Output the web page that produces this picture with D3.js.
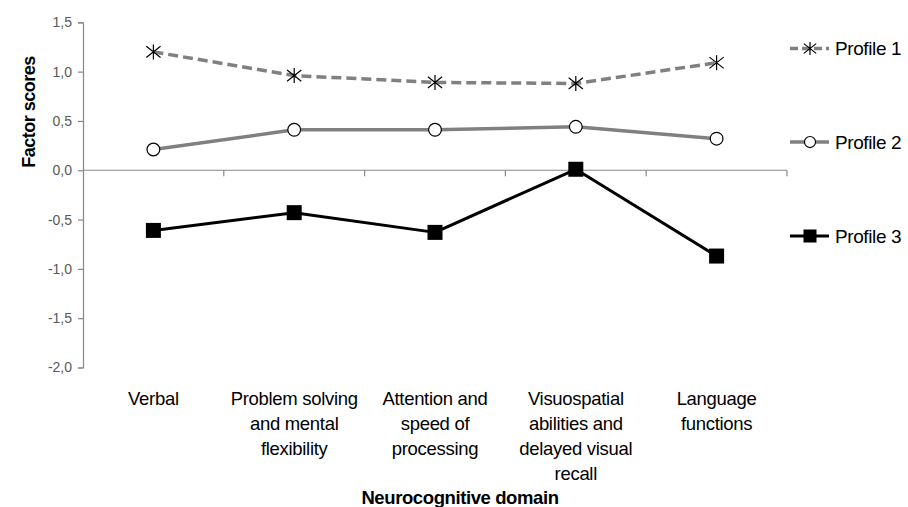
<!DOCTYPE html>
<html>
<head>
<meta charset="utf-8">
<script src="https://cdn.jsdelivr.net/npm/d3@7"></script>
<style>
  html, body { margin: 0; padding: 0; background: #fff; }
  svg { display: block; font-family: "Liberation Sans", Arial, sans-serif; }
</style>
</head>
<body>
<svg id="chart" width="908" height="507"></svg>
<script>
const categories = ["Verbal", "Problem solving", "Attention and speed", "Visuospatial", "Language functions"];
const categoryLines = [
  ["Verbal"],
  ["Problem solving", "and mental", "flexibility"],
  ["Attention and", "speed of", "processing"],
  ["Visuospatial", "abilities and", "delayed visual", "recall"],
  ["Language", "functions"]
];
const seriesNames = ["Profile 1", "Profile 2", "Profile 3"];
const profile1 = [1.20, 0.96, 0.89, 0.88, 1.09];
const profile2 = [0.21, 0.41, 0.41, 0.44, 0.32];
const profile3 = [-0.61, -0.43, -0.63, 0.01, -0.87];
const yTicks = [1.5, 1.0, 0.5, 0.0, -0.5, -1.0, -1.5, -2.0];
const yTitle = "Factor scores";
const xTitle = "Neurocognitive domain";

const svg = d3.select("#chart");
const plotLeft = 83, plotRight = 787, plotTop = 22.3, plotBottom = 367.5;

const x = d3.scaleBand().domain(categories).range([plotLeft, plotRight]).padding(0);
const y = d3.scaleLinear().domain([-2.0, 1.5]).range([plotBottom, plotTop]);

const axisColor = "#878787";
const fmt = v => d3.format(".1f")(v).replace(".", ",").replace("−", "-");

// Y axis
const yAxis = d3.axisLeft(y).tickValues(yTicks).tickSize(5).tickPadding(6).tickFormat(fmt);
const gy = svg.append("g").attr("transform", `translate(${plotLeft},0)`).call(yAxis);
gy.select(".domain").attr("stroke", axisColor).attr("stroke-width", 1.2);
gy.selectAll(".tick line").attr("stroke", axisColor).attr("stroke-width", 1.2);
gy.selectAll(".tick text").attr("fill", "#595959").attr("font-size", 14)
  .attr("font-family", "Liberation Sans, Arial, sans-serif");

// X axis at zero
const y0 = y(0);
svg.append("line").attr("x1", plotLeft).attr("x2", plotRight).attr("y1", y0).attr("y2", y0)
  .attr("stroke", axisColor).attr("stroke-width", 1.2);
const boundaries = categories.map(c => x(c)).concat([x(categories[categories.length - 1]) + x.bandwidth()]);
svg.selectAll(".xtick").data(boundaries.slice(1)).enter().append("line")
  .attr("x1", d => d).attr("x2", d => d).attr("y1", y0).attr("y2", y0 + 6)
  .attr("stroke", axisColor).attr("stroke-width", 1.2);

// Category labels
const lab = svg.append("g").attr("font-size", 18.5).attr("fill", "#000").attr("text-anchor", "middle")
  .attr("letter-spacing", -0.3);
categories.forEach((c, i) => {
  const t = lab.append("text").attr("x", x(c) + x.bandwidth() / 2).attr("y", 405);
  categoryLines[i].forEach((ln, j) => {
    t.append("tspan").attr("x", x(c) + x.bandwidth() / 2).attr("y", 405 + j * 25).text(ln);
  });
});

// Titles
svg.append("text").attr("x", 460).attr("y", 504).attr("text-anchor", "middle")
  .attr("font-size", 18.5).attr("font-weight", "bold").attr("letter-spacing", -0.4).text(xTitle);
svg.append("text").attr("transform", "translate(35,112) rotate(-90)").attr("text-anchor", "middle")
  .attr("font-size", 18).attr("font-weight", "bold").attr("letter-spacing", -0.5).text(yTitle);

// Series
const series = [
  { name: seriesNames[0], values: profile1, color: "#808080", width: 3.5, dash: "10,5", marker: "star" },
  { name: seriesNames[1], values: profile2, color: "#808080", width: 3.5, dash: null, marker: "circle" },
  { name: seriesNames[2], values: profile3, color: "#000000", width: 3, dash: null, marker: "square" }
];

const cx = c => x(c) + x.bandwidth() / 2;
const line = d3.line().x(d => cx(d.c)).y(d => y(d.v));

function drawMarker(g, type, px, py, size) {
  if (type === "star") {
    const s = size;
    g.append("path")
      .attr("d", `M${px},${py - s}L${px},${py + s}M${px - s * 0.95},${py - s * 0.75}L${px + s * 0.95},${py + s * 0.75}M${px - s * 0.95},${py + s * 0.75}L${px + s * 0.95},${py - s * 0.75}`)
      .attr("stroke", "#000").attr("stroke-width", 1.2).attr("fill", "none");
  } else if (type === "circle") {
    g.append("circle").attr("cx", px).attr("cy", py).attr("r", size * 0.85)
      .attr("fill", "#fff").attr("stroke", "#000").attr("stroke-width", 1.2);
  } else {
    g.append("rect").attr("x", px - size).attr("y", py - size).attr("width", size * 2).attr("height", size * 2)
      .attr("fill", "#000");
  }
}

series.forEach(s => {
  const pts = categories.map((c, i) => ({ c, v: s.values[i] }));
  svg.append("path").datum(pts).attr("d", line).attr("fill", "none")
    .attr("stroke", s.color).attr("stroke-width", s.width)
    .attr("stroke-dasharray", s.dash).attr("stroke-linejoin", "round");
  const g = svg.append("g");
  pts.forEach(p => drawMarker(g, s.marker, cx(p.c), y(p.v), 7.5));
});

// Legend
const legendY = [48.5, 142, 236];
series.forEach((s, i) => {
  const g = svg.append("g");
  const ly = legendY[i];
  g.append("line").attr("x1", 790).attr("x2", 829).attr("y1", ly).attr("y2", ly)
    .attr("stroke", s.color).attr("stroke-width", s.width).attr("stroke-dasharray", s.dash ? "8,4" : null);
  drawMarker(g, s.marker, 810, ly, 6.5);
  g.append("text").attr("x", 835).attr("y", ly + 6.5).attr("font-size", 19)
    .attr("letter-spacing", -0.4).attr("fill", "#000").text(s.name);
});
</script>
</body>
</html>
